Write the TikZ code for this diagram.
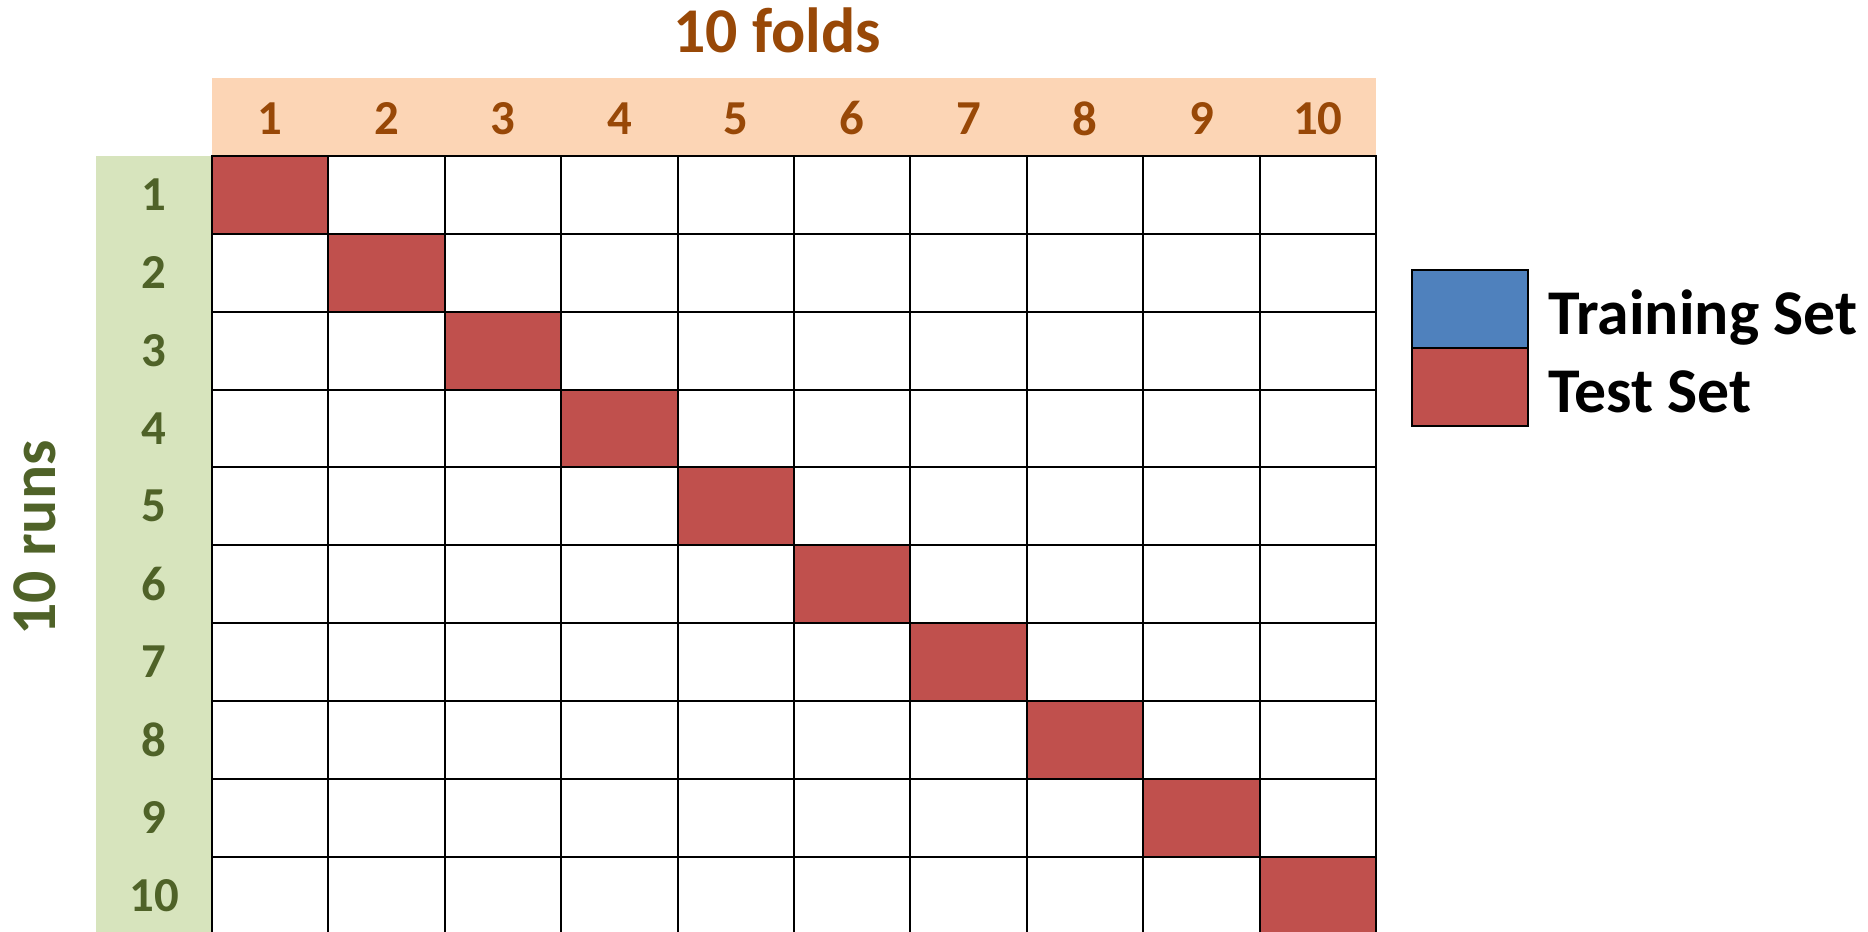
\documentclass[tikz,border=0pt]{standalone}
\usepackage{fontspec}
\setmainfont{Carlito}
\definecolor{headfill}{HTML}{FCD5B5}
\definecolor{headtext}{HTML}{984807}
\definecolor{runfill}{HTML}{D7E4BD}
\definecolor{runtext}{HTML}{4F6228}
\definecolor{testred}{HTML}{C0504D}
\definecolor{trainblue}{HTML}{4F81BD}
\begin{document}
\begin{tikzpicture}[x=1bp,y=1bp,
  cell/.style={draw=black, line width=2bp, minimum width=116.4bp, minimum height=77.85bp, inner sep=0pt, fill=white},
  testcell/.style={cell, fill=testred},
  legbox/.style={draw=black, line width=2bp, minimum width=116bp, minimum height=78bp, inner sep=0pt},
  headlbl/.style={text=headtext, font=\fontsize{49}{58}\selectfont\bfseries, inner sep=0pt},
  runlbl/.style={text=runtext, font=\fontsize{49}{58}\selectfont\bfseries, inner sep=0pt},
  bigtitle/.style={font=\fontsize{64}{76}\selectfont\bfseries, inner sep=0pt},
  legtext/.style={font=\fontsize{64}{76}\selectfont\bfseries, inner sep=0pt, anchor=base west}]
\useasboundingbox (0,0) rectangle (1868,932);
\clip (0,0) rectangle (1868,932);
% bands
\fill[headfill] (212,776) rectangle (1376,854);
\fill[runfill] (96,-20) rectangle (212,776);
% titles
\node[bigtitle, text=headtext, anchor=base] (folds) at (777,879) {10 folds};
\node[bigtitle, text=runtext, anchor=base, rotate=90] (runs) at (55,394) {10 runs};
% header and row labels
\foreach \j in {1,...,10} {
  \node[headlbl] (h\j) at ({212+(\j-0.5)*116.4},813.5) {\j};
  \node[runlbl] (r\j) at (154,{776-(\j-0.5)*77.85}) {\j};
}
% grid cells
\foreach \i in {1,...,10} {
  \foreach \j in {1,...,10} {
    \node[cell] (c-\i-\j) at ({212+(\j-0.5)*116.4},{776-(\i-0.5)*77.85}) {};
  }
}
\foreach \i in {1,...,10} {
  \node[testcell] (t\i) at (c-\i-\i) {};
}
% legend
\node[legbox, fill=trainblue] (legtrain) at (1470,622.5) {};
\node[legbox, fill=testred] (legtest) at (1470,544.5) {};
\node[legtext] (ltrain) at (1548,597) {Training Set};
\node[legtext] (ltest) at (1548,519) {Test Set};
\end{tikzpicture}
\end{document}
